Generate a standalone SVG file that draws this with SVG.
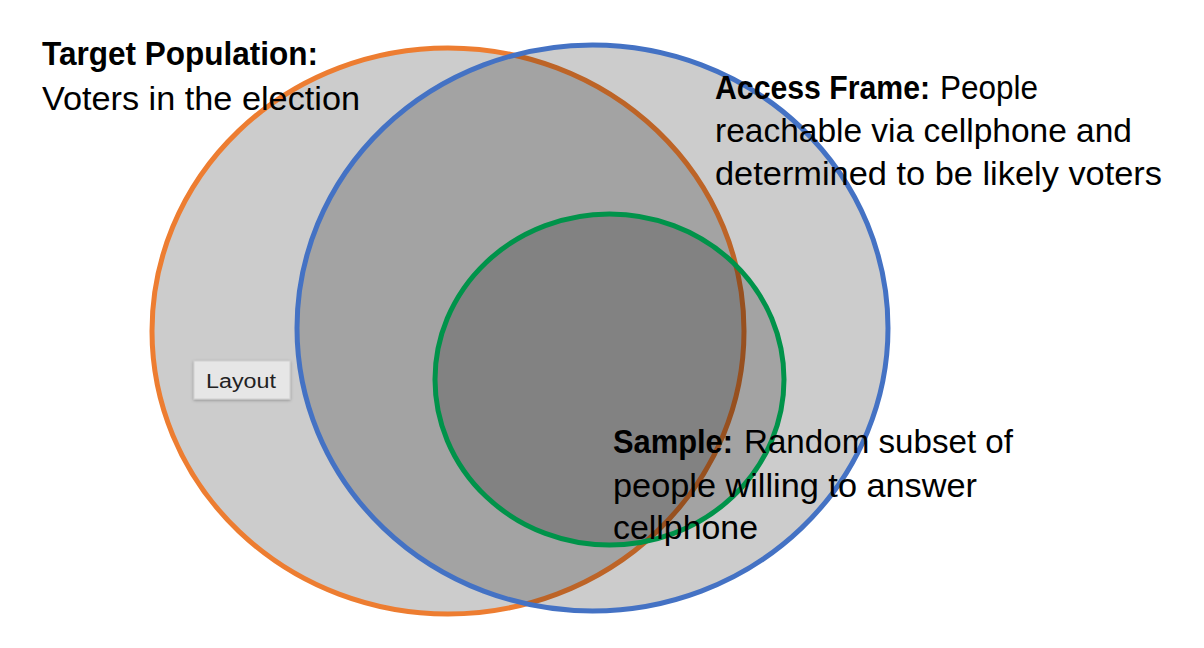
<svg xmlns="http://www.w3.org/2000/svg" width="1204" height="648" viewBox="0 0 1204 648">
<style>
.set{fill:rgba(0,0,0,0.2);stroke-width:5}
.lbl{font-family:"Liberation Sans",Arial,sans-serif;font-size:34px;fill:#000}
.b{font-weight:bold}
.btn{font-family:"Liberation Sans",Arial,sans-serif;font-size:20px;fill:#222}
</style>
<defs>
<filter id="sh" x="-20%" y="-20%" width="140%" height="160%">
<feDropShadow dx="0" dy="1" stdDeviation="1.5" flood-color="#000" flood-opacity="0.3"/>
</filter>
</defs>
<rect width="1204" height="648" fill="#fff"/>
<g id="target">
<ellipse class="set" cx="448" cy="331" rx="296" ry="283" stroke="#ED7D31"/>
</g>
<g id="access">
<ellipse class="set" cx="592.5" cy="328" rx="295.5" ry="283" stroke="#4472C4"/>
</g>
<g id="sample">
<ellipse class="set" cx="609.5" cy="379.5" rx="174.5" ry="165.5" stroke="#00934A"/>
</g>
<g id="connectors"/>
<g id="labels">
<text class="lbl b" x="42" y="65" textLength="276" lengthAdjust="spacingAndGlyphs">Target Population:</text>
<text class="lbl" x="42" y="110" textLength="318" lengthAdjust="spacingAndGlyphs">Voters in the election</text>
<text class="lbl b" x="715" y="99" textLength="215" lengthAdjust="spacingAndGlyphs">Access Frame:</text>
<text class="lbl" x="940" y="99" textLength="98" lengthAdjust="spacingAndGlyphs">People</text>
<text class="lbl" x="715" y="142" textLength="417" lengthAdjust="spacingAndGlyphs">reachable via cellphone and</text>
<text class="lbl" x="715" y="185" textLength="447" lengthAdjust="spacingAndGlyphs">determined to be likely voters</text>
<text class="lbl b" x="613" y="453" textLength="120" lengthAdjust="spacingAndGlyphs">Sample:</text>
<text class="lbl" x="744" y="453" textLength="269" lengthAdjust="spacingAndGlyphs">Random subset of</text>
<text class="lbl" x="613" y="497" textLength="364" lengthAdjust="spacingAndGlyphs">people willing to answer</text>
<text class="lbl" x="613" y="539" textLength="145" lengthAdjust="spacingAndGlyphs">cellphone</text>
</g>
<g id="layout-button">
<rect x="194" y="361" width="96" height="38" fill="#e6e6e6" stroke="#cfcfcf" stroke-width="1" filter="url(#sh)"/>
<text class="btn" x="206" y="388" textLength="70" lengthAdjust="spacingAndGlyphs">Layout</text>
</g>
</svg>
